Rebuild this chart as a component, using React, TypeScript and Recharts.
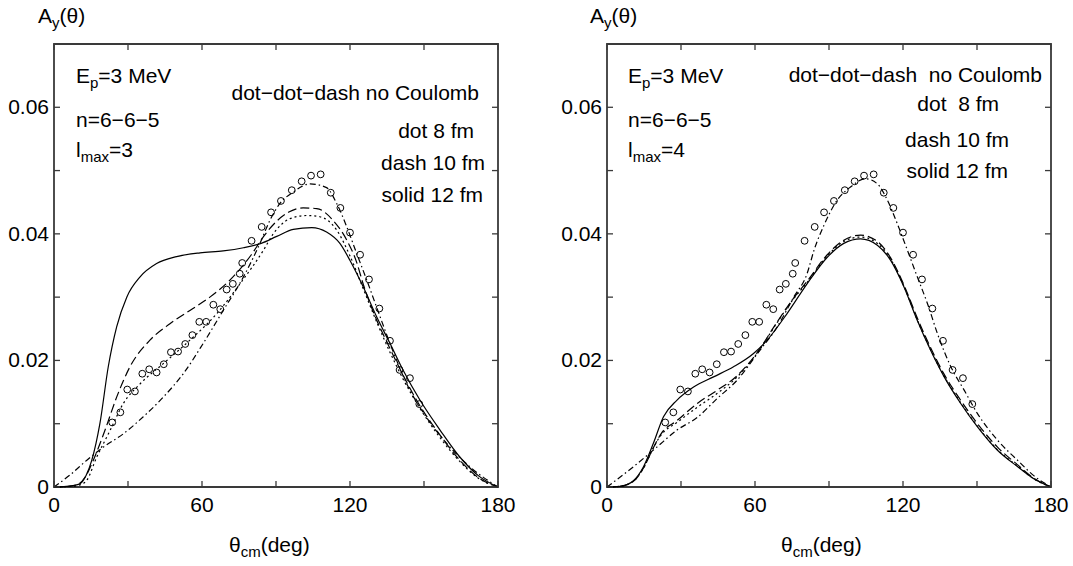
import { ComposedChart, Line, Scatter, XAxis, YAxis, ReferenceArea } from 'recharts';

// measured A_y points (same in both panels)
const expData = [
  [23.6, 0.0102], [26.9, 0.0118], [29.7, 0.0154], [32.8, 0.0151], [35.8, 0.0179], [38.6, 0.0186],
  [41.6, 0.0181], [44.5, 0.0194], [47.4, 0.0213], [50.3, 0.0214], [53.2, 0.0226], [56.1, 0.024],
  [58.9, 0.0261], [61.7, 0.0261], [64.6, 0.0288], [67.4, 0.0281], [70.0, 0.0312], [72.5, 0.0321],
  [75.3, 0.0337], [76.3, 0.0354], [80.1, 0.0389], [84.2, 0.0411], [88.0, 0.0434], [92.0, 0.0452],
  [96.4, 0.0469], [100.4, 0.0483], [104.2, 0.0492], [108.1, 0.0494], [112.2, 0.0465], [116.1, 0.0441],
  [120.0, 0.0402], [124.1, 0.0367], [127.7, 0.0328], [131.9, 0.0282], [136.2, 0.0231], [140.1, 0.0185],
  [144.3, 0.0172], [148.1, 0.0131],
];

// l_max = 3
const left12fm = [
  [0, 0], [5, 0.0001], [10.5, 0.0005], [13, 0.0018], [15.3, 0.0042], [18.6, 0.010], [22, 0.019],
  [25.4, 0.0253], [29.5, 0.030], [34.9, 0.0332], [41.6, 0.0353], [49.7, 0.0364], [59.2, 0.0370],
  [68.6, 0.0373], [76.8, 0.0378], [84, 0.0385], [90.3, 0.0396], [97, 0.0407], [104.5, 0.0410],
  [110.5, 0.0403], [115.9, 0.0385], [120, 0.0358], [125.4, 0.0316], [130.8, 0.0269], [136.2, 0.0227],
  [141.6, 0.0184], [148.4, 0.0137], [156.5, 0.0090], [164.6, 0.0047], [172, 0.0018], [180, 0],
];
const left10fm = [
  [0, 0], [6, 0.0001], [10, 0.0005], [13, 0.0018], [15.9, 0.0042], [20.7, 0.009], [25.4, 0.0142],
  [30.8, 0.019], [38.9, 0.0232], [47, 0.0258], [55.1, 0.0279], [63.2, 0.030], [71.3, 0.0327],
  [80, 0.0367], [85, 0.0396], [90, 0.0419], [95, 0.0434], [101, 0.0441], [106.5, 0.0440],
  [113.2, 0.0421], [118.7, 0.039], [122.7, 0.0355], [125.4, 0.0320], [130.8, 0.0264], [136.2, 0.0219],
  [141.6, 0.0176], [148.4, 0.0128], [156.5, 0.0082], [164.6, 0.0042], [172, 0.0015], [180, 0],
];
const left8fm = [
  [0, 0], [7, 0.0001], [11, 0.0004], [13.2, 0.0010], [17.3, 0.0047], [22.7, 0.0089], [28.1, 0.0132],
  [34.9, 0.0163], [44.3, 0.0195], [55.1, 0.0232], [66, 0.0274], [75.4, 0.0321], [84.9, 0.0374],
  [88.9, 0.0400], [95.7, 0.0424], [102.4, 0.0429], [107.8, 0.0427], [114.6, 0.0406], [120, 0.0365],
  [125.4, 0.0313], [130.8, 0.0261], [136.2, 0.0213], [141.6, 0.0170], [148.4, 0.0124],
  [156.5, 0.0078], [164.6, 0.0040], [172, 0.0014], [180, 0],
];
const leftNoCoul = [
  [0, 0], [6.5, 0.0019], [13.2, 0.0042], [20, 0.0063], [28.1, 0.0084], [36.2, 0.0111], [44.3, 0.0142],
  [52.4, 0.0179], [60.5, 0.0227], [68.6, 0.0279], [76.8, 0.0332], [83.5, 0.0385], [87.6, 0.0422],
  [91.6, 0.0448], [97, 0.0466], [103.8, 0.0479], [110.5, 0.0473], [114.6, 0.0448], [118.7, 0.0411],
  [122.7, 0.0369], [126.8, 0.0327], [130.8, 0.0284], [136.2, 0.0227], [143, 0.0163], [151, 0.011],
  [159.2, 0.0069], [168.6, 0.0032], [180, 0],
];

// l_max = 4
const right12fm = [
  [0, 0], [5.3, 0.0001], [10.7, 0.001], [14.8, 0.0032], [18.8, 0.0069], [22.9, 0.0111], [28.3, 0.0137],
  [35.1, 0.0158], [43.2, 0.0174], [51.3, 0.019], [59.4, 0.0211], [64.9, 0.0232], [73, 0.0274],
  [81.1, 0.0321], [89.3, 0.0363], [96, 0.0385], [102.8, 0.0392], [109.6, 0.0382], [115, 0.0358],
  [120.4, 0.0316], [125.8, 0.0263], [131.2, 0.0216], [136.7, 0.0174], [143.4, 0.0132], [150.2, 0.0095],
  [158.3, 0.0058], [166.5, 0.0032], [173, 0.0013], [180, 0],
];
const right10fm = [
  [0, 0], [5, 0.0001], [10.7, 0.0009], [14.8, 0.003], [18.8, 0.0062], [21.9, 0.0084], [28.4, 0.0105],
  [36.6, 0.0132], [44.7, 0.0153], [52.8, 0.0176], [61, 0.0213], [68, 0.0255], [75, 0.0295],
  [81.1, 0.0325], [89.3, 0.0367], [96, 0.039], [102.8, 0.0398], [109.6, 0.0388], [115, 0.0362],
  [120.4, 0.0319], [125.8, 0.0267], [131.2, 0.022], [136.7, 0.0178], [143.4, 0.0137], [150.2, 0.0100],
  [158.3, 0.0063], [166.5, 0.0035], [173, 0.0014], [180, 0],
];
const right8fm = [
  [0, 0], [5, 0.0001], [10.7, 0.0009], [14.8, 0.003], [18.8, 0.0062], [21.9, 0.0082], [28.4, 0.0102],
  [36.6, 0.0126], [44.7, 0.0148], [52.8, 0.0174], [61, 0.0212], [68, 0.0254], [75, 0.0294],
  [81.1, 0.0323], [89.3, 0.0365], [96, 0.0388], [102.8, 0.0395], [109.6, 0.0385], [115, 0.0360],
  [120.4, 0.0317], [125.8, 0.0264], [131.2, 0.0217], [136.7, 0.0175], [143.4, 0.0133], [150.2, 0.0096],
  [158.3, 0.0059], [166.5, 0.0033], [173, 0.0013], [180, 0],
];
const rightNoCoul = [
  [0, 0], [10.7, 0.0032], [20.2, 0.0063], [28.4, 0.009], [36.6, 0.011], [44.7, 0.014], [52.8, 0.0169],
  [61, 0.0211], [69, 0.0253], [75.7, 0.030], [81.1, 0.0337], [84, 0.0375], [88, 0.0414], [93.3, 0.0453],
  [98.7, 0.0474], [104.8, 0.0487], [109.6, 0.0479], [113.7, 0.0453], [117.7, 0.0416], [121.8, 0.0374],
  [125.8, 0.0332], [129.9, 0.029], [134, 0.0242], [139.4, 0.019], [144.8, 0.0153], [150.2, 0.0116],
  [158.3, 0.0074], [166.5, 0.0042], [173, 0.0018], [180, 0],
];

const xTicks = [0, 30, 60, 90, 120, 150, 180];
const yTicks = [0, 0.01, 0.02, 0.03, 0.04, 0.05, 0.06];

const FONT = "'Liberation Sans', Arial, sans-serif";
const FS = 21;
const FRAME = '#3a3a3a';
const PLOT_H = 443;
const PLOT_W = 444;
const TICK = 6;

const pts = (a: number[][]) => a.map(([x, y]) => ({ x, y }));

function XTick(props: any) {
  const { x, y, payload } = props;
  const v = payload.value;
  return (
    <g>
      <line x1={x} x2={x} y1={y} y2={y - TICK} stroke={FRAME} strokeWidth={1.3} />
      <line x1={x} x2={x} y1={y - PLOT_H} y2={y - PLOT_H + TICK} stroke={FRAME} strokeWidth={1.3} />
      {v % 60 === 0 && (
        <text x={x} y={y + 25} textAnchor="middle" fontFamily={FONT} fontSize={FS} fill="#000">{v}</text>
      )}
    </g>
  );
}

function YTick(props: any) {
  const { x, y, payload } = props;
  const k = Math.round(payload.value * 100);
  return (
    <g>
      <line x1={x} x2={x + TICK} y1={y} y2={y} stroke={FRAME} strokeWidth={1.3} />
      <line x1={x + PLOT_W} x2={x + PLOT_W - TICK} y1={y} y2={y} stroke={FRAME} strokeWidth={1.3} />
      {k % 2 === 0 && (
        <text x={x - 5} y={y + 7} textAnchor="end" fontFamily={FONT} fontSize={FS} fill="#000">
          {k === 0 ? '0' : (k / 100).toFixed(2)}
        </text>
      )}
    </g>
  );
}

function Circle(props: any) {
  const { cx, cy } = props;
  return <circle cx={cx} cy={cy} r={3.4} fill="none" stroke="#000" strokeWidth={1} />;
}

function Panel({ left, solid, dash, dot, noC }: { left: number; solid: number[][]; dash: number[][]; dot: number[][]; noC: number[][] }) {
  const line = (d: number[][], dashArr?: string) => (
    <Line data={pts(d)} dataKey="y" type="monotone" stroke="#000" strokeWidth={1.2}
      strokeDasharray={dashArr} dot={false} activeDot={false} isAnimationActive={false} />
  );
  return (
    <div style={{ position: 'absolute', left, top: 0 }}>
      <ComposedChart width={520} height={566} margin={{ top: 44, right: 22, bottom: 39, left: 4 }}>
        <XAxis dataKey="x" type="number" domain={[0, 180]} ticks={xTicks} interval={0} height={40}
          tickSize={0} tickMargin={0} tickLine={false} axisLine={false} tick={XTick} />
        <YAxis type="number" domain={[0, 0.07]} ticks={yTicks} interval={0} width={50}
          tickSize={0} tickMargin={0} tickLine={false} axisLine={false} tick={YTick} />
        <ReferenceArea x1={0} x2={180} y1={0} y2={0.07} fill="none" stroke={FRAME} strokeWidth={1.8} fillOpacity={0} />
        {line(noC, '6 3 1.5 3')}
        {line(dot, '2 3')}
        {line(dash, '9 4')}
        {line(solid)}
        <Scatter data={pts(expData)} dataKey="y" shape={<Circle />} isAnimationActive={false} />
      </ComposedChart>
    </div>
  );
}

function Labels() {
  const t = { fontFamily: FONT, fontSize: FS, fill: '#000', style: { whiteSpace: 'pre' as const } };
  const sub = { fontSize: 15, dy: 5 };
  const side = (ox: number, lmax: string) => (
    <g>
      <text x={38 + ox} y={23} {...t}>A<tspan {...sub}>y</tspan><tspan dy={-5}>(θ)</tspan></text>
      <text x={76 + ox} y={83} {...t}>E<tspan {...sub}>p</tspan><tspan dy={-5}>=3 MeV</tspan></text>
      <text x={76 + ox} y={127} {...t}>n=6−6−5</text>
      <text x={76 + ox} y={157} {...t}>l<tspan {...sub}>max</tspan><tspan dy={-5}>={lmax}</tspan></text>
      <text x={229 + ox} y={552} {...t}>θ<tspan {...sub}>cm</tspan><tspan dy={-5}>(deg)</tspan></text>
    </g>
  );
  return (
    <svg width={1073} height={566} style={{ position: 'absolute', left: 0, top: 0, pointerEvents: 'none' }}>
      {side(0, '3')}
      {side(552, '4')}
      <text x={479} y={100} textAnchor="end" {...t}>dot−dot−dash no Coulomb</text>
      <text x={474} y={138} textAnchor="end" {...t}>dot 8 fm</text>
      <text x={485} y={170} textAnchor="end" {...t}>dash 10 fm</text>
      <text x={483} y={202} textAnchor="end" {...t}>solid 12 fm</text>
      <text x={1042} y={82} textAnchor="end" {...t}>dot−dot−dash  no Coulomb</text>
      <text x={999} y={111} textAnchor="end" {...t}>dot  8 fm</text>
      <text x={1009} y={147} textAnchor="end" {...t}>dash 10 fm</text>
      <text x={1008} y={178} textAnchor="end" {...t}>solid 12 fm</text>
    </svg>
  );
}

export default function App() {
  return (
    <div style={{ position: 'absolute', left: 0, top: 0, width: 1073, height: 566, background: '#fff' }}>
      <Panel left={0} solid={left12fm} dash={left10fm} dot={left8fm} noC={leftNoCoul} />
      <Panel left={553} solid={right12fm} dash={right10fm} dot={right8fm} noC={rightNoCoul} />
      <Labels />
    </div>
  );
}
